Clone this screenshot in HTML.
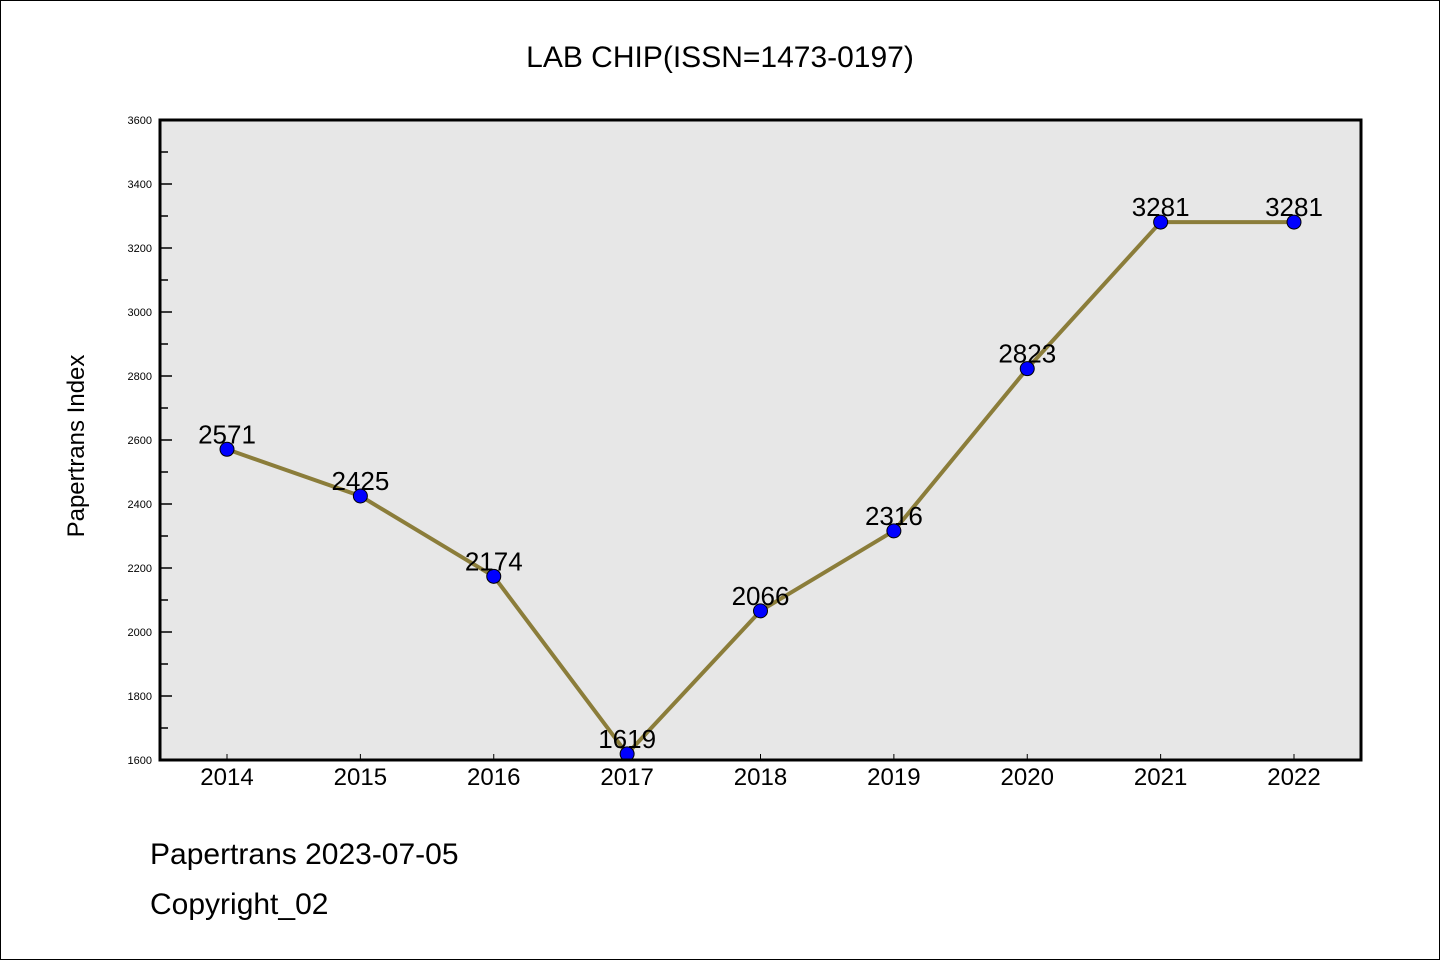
<!DOCTYPE html>
<html><head><meta charset="utf-8"><style>
html,body{margin:0;padding:0;background:#fff}
svg{display:block}
text{font-family:"WenQuanYi Zen Hei","Liberation Sans",sans-serif}
</style></head><body>
<svg id="chart" width="1440" height="960" xmlns="http://www.w3.org/2000/svg">
<rect x="0.5" y="0.5" width="1439" height="959" fill="#fff" stroke="#000"/>
<text x="720" y="67" font-size="30" text-anchor="middle">LAB CHIP(ISSN=1473-0197)</text>
<rect x="160" y="120" width="1201" height="640" fill="#e7e7e7"/>
<g id="axes"></g>
<g id="series"></g>
<rect x="160" y="120" width="1201" height="640" fill="none" stroke="#000" stroke-width="3"/>
<text transform="translate(84,446) rotate(-90)" font-size="24" text-anchor="middle">Papertrans Index</text>
<text x="150" y="864" font-size="30">Papertrans 2023-07-05</text>
<text x="150" y="914" font-size="30">Copyright_02</text>
</svg>
<script>
const years = [2014,2015,2016,2017,2018,2019,2020,2021,2022];
const values = [2571,2425,2174,1619,2066,2316,2823,3281,3281];
const yTicks = [1600,1800,2000,2200,2400,2600,2800,3000,3200,3400,3600];
const NS="http://www.w3.org/2000/svg";
function xs(yr){return 227+(yr-2014)*(1294-227)/8;}
function ys(v){return 760-(v-1600)*640/2000;}
function mk(tag,attrs,parent){const e=document.createElementNS(NS,tag);for(const k in attrs)e.setAttribute(k,attrs[k]);parent.appendChild(e);return e;}
const ax=document.getElementById('axes'), sr=document.getElementById('series');
yTicks.forEach((t,i)=>{
  const l=mk('line',{x1:160,x2:172,y1:ys(t),y2:ys(t),stroke:'#000','stroke-width':1.5},ax);
  
  
  const tx=mk('text',{x:152,y:ys(t)+4,'font-size':11,'text-anchor':'end'},ax);
  tx.textContent=t;
  
  
  if(i<yTicks.length-1){
    const m=mk('line',{x1:160,x2:168,y1:ys(t+100),y2:ys(t+100),stroke:'#000','stroke-width':1.5},ax);
    
    
  }
});
years.forEach(yr=>{
  const l=mk('line',{x1:xs(yr),x2:xs(yr),y1:760,y2:754,stroke:'#000','stroke-width':1},ax);
  
  
  const tx=mk('text',{x:xs(yr),y:785,'font-size':24,'text-anchor':'middle'},ax);
  tx.textContent=yr;
  
  
});
const pts=years.map((yr,i)=>xs(yr)+','+ys(values[i])).join(' ');
const pl=mk('polyline',{points:pts,fill:'none',stroke:'#8b7d3a','stroke-width':4,'stroke-linejoin':'round'},sr);


years.forEach((yr,i)=>{
  const c=mk('circle',{cx:xs(yr),cy:ys(values[i]),r:7,fill:'#0000ff',stroke:'#000','stroke-width':1},sr);
  
  
});
years.forEach((yr,i)=>{
  const t=mk('text',{x:xs(yr),y:ys(values[i])-6,'font-size':26,'text-anchor':'middle'},sr);
  t.textContent=values[i];
  
  
});
</script>
</body></html>
